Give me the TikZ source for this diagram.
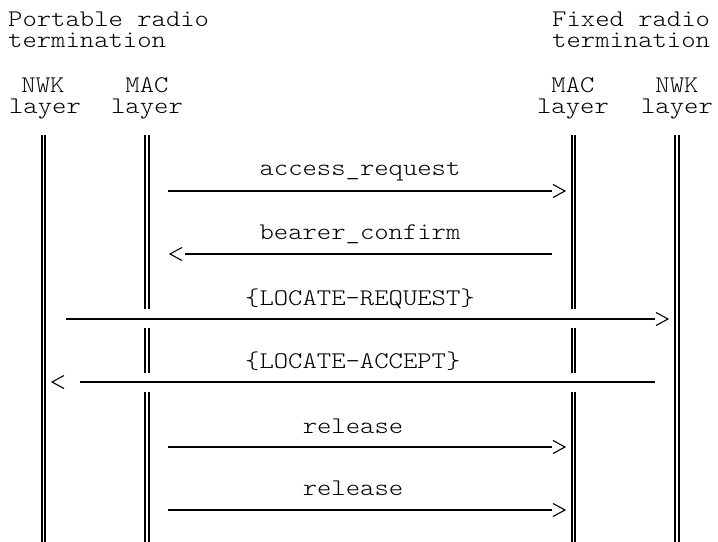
\documentclass[tikz,border=0pt]{standalone}
\usepackage{fontspec}
\setmonofont[FakeStretch=1.143]{Latin Modern Mono Light}
\begin{document}
\begin{tikzpicture}[x=1bp,y=-1bp,
  txt/.style={font=\ttfamily\fontsize{24}{24}\selectfont, inner sep=0pt, anchor=base},
  life/.style={draw=black, line width=1.8bp, double=white, double distance=1.6bp},
  msg/.style={line width=2bp},
  chev/.style={line width=1.1bp, line join=miter}]
\useasboundingbox (0,0) rectangle (718,542);
% headers
\node[txt, anchor=base west] (hp1) at (8,27) {Portable radio};
\node[txt, anchor=base west] (hp2) at (8,48) {termination};
\node[txt, anchor=base west] (hf1) at (552,27) {Fixed radio};
\node[txt, anchor=base west] (hf2) at (552,48) {termination};
% layer labels
\node[txt] (pn1) at (43,93) {NWK};
\node[txt] (pn2) at (45,114) {layer};
\node[txt] (pm1) at (147,93) {MAC};
\node[txt] (pm2) at (147,114) {layer};
\node[txt] (fm1) at (573,93) {MAC};
\node[txt] (fm2) at (573,114) {layer};
\node[txt] (fn1) at (677,93) {NWK};
\node[txt] (fn2) at (677,114) {layer};
% lifeline coordinates
\coordinate (pnT) at (43.5,135);  \coordinate (pnB) at (43.5,542);
\coordinate (fnT) at (677,135); \coordinate (fnB) at (677,542);
\coordinate (pmT) at (147,135); \coordinate (pmB) at (147,542);
\coordinate (fmT) at (573.5,135); \coordinate (fmB) at (573.5,542);
\draw[life] (pnT) -- (pnB);
\draw[life] (fnT) -- (fnB);
\draw[life] (pmT) -- (147,309) (147,328) -- (147,373) (147,392) -- (pmB);
\draw[life] (fmT) -- (573.5,309) (573.5,328) -- (573.5,373) (573.5,392) -- (fmB);
% message 1: access_request
\coordinate (m1a) at (168,191); \coordinate (m1b) at (552,191);
\draw[msg] (m1a) -- (m1b);
\draw[chev] ([xshift=1bp]m1b) ++(0,-6.5) -- ++(12,6.5) -- ++(-12,6.5);
\node[txt] (l1) at (360,176) {access\_request};
% message 2: bearer_confirm
\coordinate (m2a) at (552,254); \coordinate (m2b) at (185,254);
\draw[msg] (m2a) -- (m2b);
\draw[chev] ([xshift=-3bp]m2b) ++(0,-6.5) -- ++(-12,6.5) -- ++(12,6.5);
\node[txt] (l2) at (360,240) {bearer\_confirm};
% message 3: LOCATE-REQUEST
\coordinate (m3a) at (66,319); \coordinate (m3b) at (655,319);
\draw[msg] (m3a) -- (m3b);
\draw[chev] ([xshift=1bp]m3b) ++(0,-6.5) -- ++(12,6.5) -- ++(-12,6.5);
\node[txt, anchor=base west] (l3) at (245,305) {\{LOCATE-REQUEST\}};
% message 4: LOCATE-ACCEPT
\coordinate (m4a) at (655,382); \coordinate (m4b) at (80,382);
\draw[msg] (m4a) -- (m4b);
\draw[chev] ([xshift=-16bp]m4b) ++(0,-6.5) -- ++(-12,6.5) -- ++(12,6.5);
\node[txt, anchor=base west] (l4) at (245,368) {\{LOCATE-ACCEPT\}};
% message 5: release
\coordinate (m5a) at (168,447); \coordinate (m5b) at (552,447);
\draw[msg] (m5a) -- (m5b);
\draw[chev] ([xshift=1bp]m5b) ++(0,-6.5) -- ++(12,6.5) -- ++(-12,6.5);
\node[txt] (l5) at (353,433) {release};
% message 6: release
\coordinate (m6a) at (168,510); \coordinate (m6b) at (552,510);
\draw[msg] (m6a) -- (m6b);
\draw[chev] ([xshift=1bp]m6b) ++(0,-6.5) -- ++(12,6.5) -- ++(-12,6.5);
\node[txt] (l6) at (353,495) {release};
\end{tikzpicture}
\end{document}
